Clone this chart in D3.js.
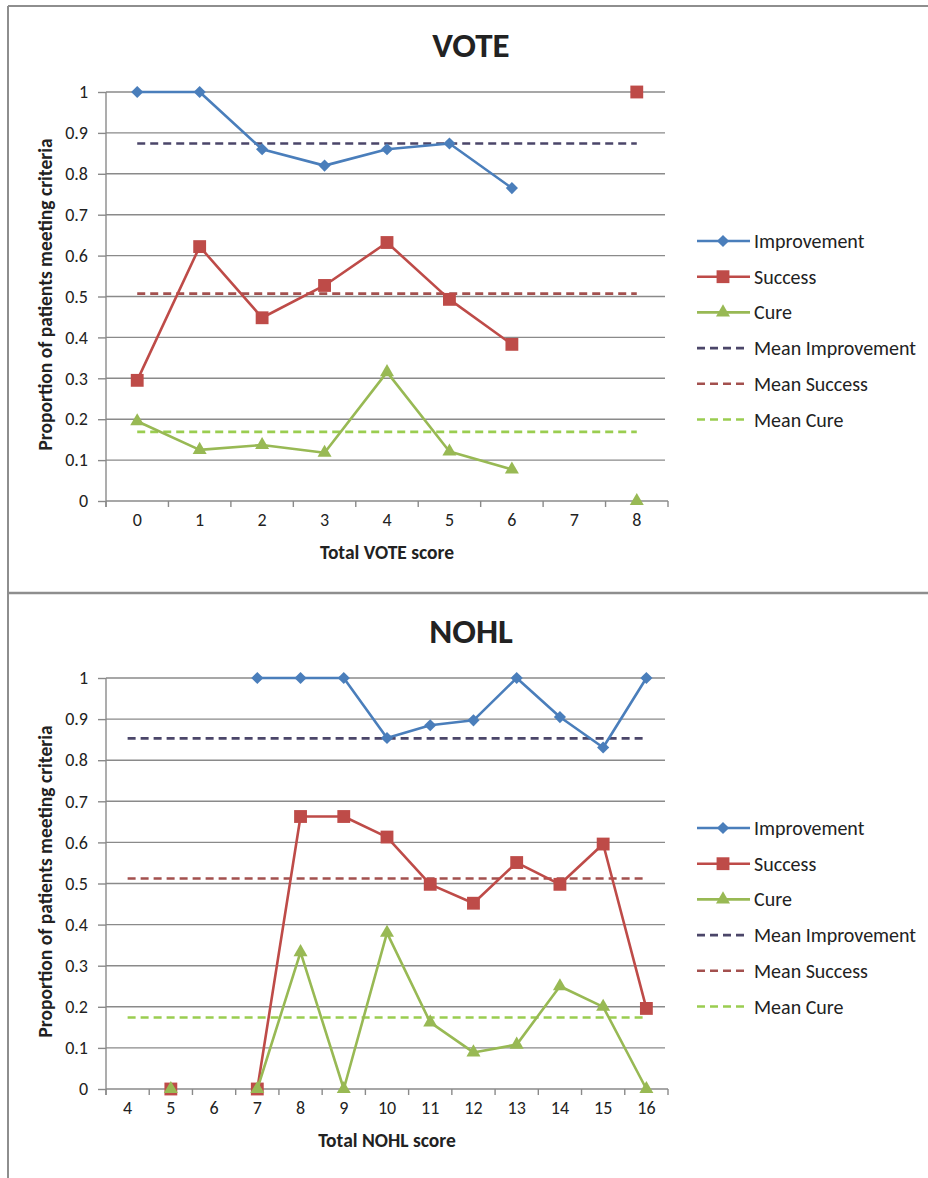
<!DOCTYPE html>
<html>
<head>
<meta charset="utf-8">
<script src="https://cdn.jsdelivr.net/npm/d3@7"></script>
<style>
  html, body { margin: 0; padding: 0; background: #fff; }
  svg { display: block; }
  text { font-family: Carlito, Lato, "Open Sans", sans-serif; fill: #222; }
</style>
</head>
<body>
<svg id="chart" width="928" height="1178"></svg>
<script>
// ---------- DATA ----------
const voteCategories = ["0","1","2","3","4","5","6","7","8"];
const voteImprovement = [1.0, 1.0, 0.86, 0.82, 0.86, 0.874, 0.765, null, 1.0];
const voteSuccess     = [0.295, 0.622, 0.448, 0.527, 0.632, 0.493, 0.383, null, 1.0];
const voteCure        = [0.195, 0.125, 0.137, 0.118, 0.315, 0.121, 0.077, null, 0.0];
const voteMeanImprovement = 0.874;
const voteMeanSuccess     = 0.507;
const voteMeanCure        = 0.169;

const nohlCategories = ["4","5","6","7","8","9","10","11","12","13","14","15","16"];
const nohlImprovement = [null, null, null, 1.0, 1.0, 1.0, 0.854, 0.885, 0.897, 1.0, 0.905, 0.831, 1.0];
const nohlSuccess     = [null, 0.0, null, 0.0, 0.663, 0.663, 0.613, 0.498, 0.452, 0.551, 0.498, 0.596, 0.196];
const nohlCure        = [null, 0.0, null, 0.0, 0.333, 0.0, 0.38, 0.162, 0.089, 0.108, 0.25, 0.2, 0.0];
const nohlMeanImprovement = 0.853;
const nohlMeanSuccess     = 0.512;
const nohlMeanCure        = 0.174;

const yTickValues = [0, 0.1, 0.2, 0.3, 0.4, 0.5, 0.6, 0.7, 0.8, 0.9, 1];
const yTickLabels = ["0","0.1","0.2","0.3","0.4","0.5","0.6","0.7","0.8","0.9","1"];
const legendLabels = ["Improvement","Success","Cure","Mean Improvement","Mean Success","Mean Cure"];
const yAxisTitle = "Proportion of patients meeting criteria";

// ---------- STYLE ----------
const COL = {
  imp: "#4A7EBB", suc: "#BE4B48", cure: "#98B954",
  mImp: "#4B4669", mSuc: "#A3504E", mCure: "#9ACD50",
  grid: "#8A8A8A", axis: "#8A8A8A", border: "#8E8E8E"
};
const FONT = "Carlito, Lato, sans-serif";

const svg = d3.select("#chart");
svg.append("rect").attr("width", 928).attr("height", 1178).attr("fill", "#fff");

// panel borders
svg.append("line").attr("x1", 8).attr("x2", 8).attr("y1", 6).attr("y2", 1178)
  .attr("stroke", COL.border).attr("stroke-width", 2);
svg.append("line").attr("x1", 8).attr("x2", 928).attr("y1", 6).attr("y2", 6)
  .attr("stroke", COL.border).attr("stroke-width", 2);
svg.append("line").attr("x1", 8).attr("x2", 928).attr("y1", 593).attr("y2", 593)
  .attr("stroke", COL.border).attr("stroke-width", 2.5);

function symPath(sym) {
  if (sym === "diamond") return d3.symbol(d3.symbolSquare, 74)();
  if (sym === "square") return d3.symbol(d3.symbolSquare, 165)();
  return d3.symbol(d3.symbolTriangle, 85)();
}

function drawChart(cfg) {
  const g = svg.append("g");
  const x = d3.scaleBand().domain(cfg.categories).range([106, 668]).paddingInner(0).paddingOuter(0);
  const y = d3.scaleLinear().domain([0, 1]).range([cfg.y0, cfg.y1]);
  const cx = c => x(c) + x.bandwidth() / 2;

  // gridlines
  g.append("g").selectAll("line").data(yTickValues.filter(v => v > 0)).join("line")
    .attr("x1", 106).attr("x2", 665)
    .attr("y1", d => y(d)).attr("y2", d => y(d))
    .attr("stroke", COL.grid).attr("stroke-width", 1.4);

  // y axis
  const yAxis = d3.axisLeft(y).tickValues(yTickValues)
    .tickFormat((d, i) => yTickLabels[i]).tickSize(8).tickPadding(10);
  const ya = g.append("g").attr("transform", "translate(106,0)").call(yAxis);
  ya.select(".domain").attr("stroke", COL.axis).attr("stroke-width", 1.4)
    .attr("d", `M0,${cfg.y1}V${cfg.y0 + 6}`);
  ya.selectAll(".tick line").attr("stroke", COL.axis).attr("stroke-width", 1.4);
  ya.selectAll(".tick text").style("font-size", "18px").attr("fill", "#222")
    .style("font-family", FONT);

  // x axis
  const xAxis = d3.axisBottom(x).tickSize(0).tickPadding(12);
  const xa = g.append("g").attr("transform", `translate(0,${cfg.y0})`).call(xAxis);
  xa.select(".domain").attr("stroke", COL.axis).attr("stroke-width", 1.4)
    .attr("d", "M106,0H668");
  xa.selectAll(".tick text").style("font-size", "18px").attr("fill", "#222")
    .style("font-family", FONT);
  const bounds = cfg.categories.map(c => x(c)).concat([x.range()[1]]);
  xa.append("g").selectAll("line").data(bounds).join("line")
    .attr("x1", d => d).attr("x2", d => d).attr("y1", 0).attr("y2", 6)
    .attr("stroke", COL.axis).attr("stroke-width", 1.4);

  // titles
  g.append("text").attr("x", 471).attr("y", cfg.titleY).attr("text-anchor", "middle")
    .style("font-size", "35px").style("font-weight", "bold").attr("fill", "#111").text(cfg.title);
  g.append("text").attr("x", 387).attr("y", cfg.y0 + 58).attr("text-anchor", "middle")
    .style("font-size", "19.5px").style("font-weight", "bold").attr("fill", "#222").text(cfg.xTitle);
  g.append("text")
    .attr("transform", `translate(52,${(cfg.y0 + cfg.y1) / 2 - 2}) rotate(-90)`)
    .attr("text-anchor", "middle")
    .style("font-size", "19.5px").style("font-weight", "bold").attr("fill", "#222").text(yAxisTitle);

  // mean lines
  const first = cfg.categories[0], last = cfg.categories[cfg.categories.length - 1];
  [[cfg.meanImp, COL.mImp], [cfg.meanSuc, COL.mSuc], [cfg.meanCure, COL.mCure]].forEach(([v, col]) => {
    g.append("line").attr("x1", cx(first)).attr("x2", cx(last))
      .attr("y1", y(v)).attr("y2", y(v))
      .attr("stroke", col).attr("stroke-width", 2.6).attr("stroke-dasharray", "8,5");
  });

  // series
  const series = [
    { vals: cfg.imp, col: COL.imp, sym: "diamond" },
    { vals: cfg.suc, col: COL.suc, sym: "square" },
    { vals: cfg.cure, col: COL.cure, sym: "triangle" }
  ];
  const line = d3.line().defined(d => d.v !== null).x(d => cx(d.c)).y(d => y(d.v));
  series.forEach(s => {
    const pts = cfg.categories.map((c, i) => ({ c, v: s.vals[i] }));
    g.append("path").datum(pts).attr("d", line)
      .attr("fill", "none").attr("stroke", s.col).attr("stroke-width", 2.6)
      .attr("stroke-linejoin", "round");
    g.append("g").selectAll("path").data(pts.filter(d => d.v !== null)).join("path")
      .attr("d", symPath(s.sym))
      .attr("transform", d => `translate(${cx(d.c)},${y(d.v)})` + (s.sym === "diamond" ? " rotate(45)" : ""))
      .attr("fill", s.col);
  });

  // legend
  const lg = g.append("g");
  const legendItems = [
    { col: COL.imp, sym: "diamond" }, { col: COL.suc, sym: "square" }, { col: COL.cure, sym: "triangle" },
    { col: COL.mImp, dash: true }, { col: COL.mSuc, dash: true }, { col: COL.mCure, dash: true }
  ];
  legendItems.forEach((it, i) => {
    const ly = cfg.legendY + i * 35.7;
    lg.append("line").attr("x1", 697).attr("x2", it.dash ? 746 : 750).attr("y1", ly).attr("y2", ly)
      .attr("stroke", it.col).attr("stroke-width", 2.6)
      .attr("stroke-dasharray", it.dash ? "8,5" : null);
    if (it.sym) {
      lg.append("path").attr("d", symPath(it.sym))
        .attr("transform", `translate(723,${ly})` + (it.sym === "diamond" ? " rotate(45)" : ""))
        .attr("fill", it.col);
    }
    lg.append("text").attr("x", 754).attr("y", ly + 7)
      .style("font-size", "20px").attr("fill", "#222").text(legendLabels[i]);
  });
}

drawChart({
  title: "VOTE", xTitle: "Total VOTE score", titleY: 57,
  categories: voteCategories, imp: voteImprovement, suc: voteSuccess, cure: voteCure,
  meanImp: voteMeanImprovement, meanSuc: voteMeanSuccess, meanCure: voteMeanCure,
  y0: 501, y1: 92, legendY: 241
});
drawChart({
  title: "NOHL", xTitle: "Total NOHL score", titleY: 643,
  categories: nohlCategories, imp: nohlImprovement, suc: nohlSuccess, cure: nohlCure,
  meanImp: nohlMeanImprovement, meanSuc: nohlMeanSuccess, meanCure: nohlMeanCure,
  y0: 1089, y1: 678, legendY: 828
});
</script>
</body>
</html>
